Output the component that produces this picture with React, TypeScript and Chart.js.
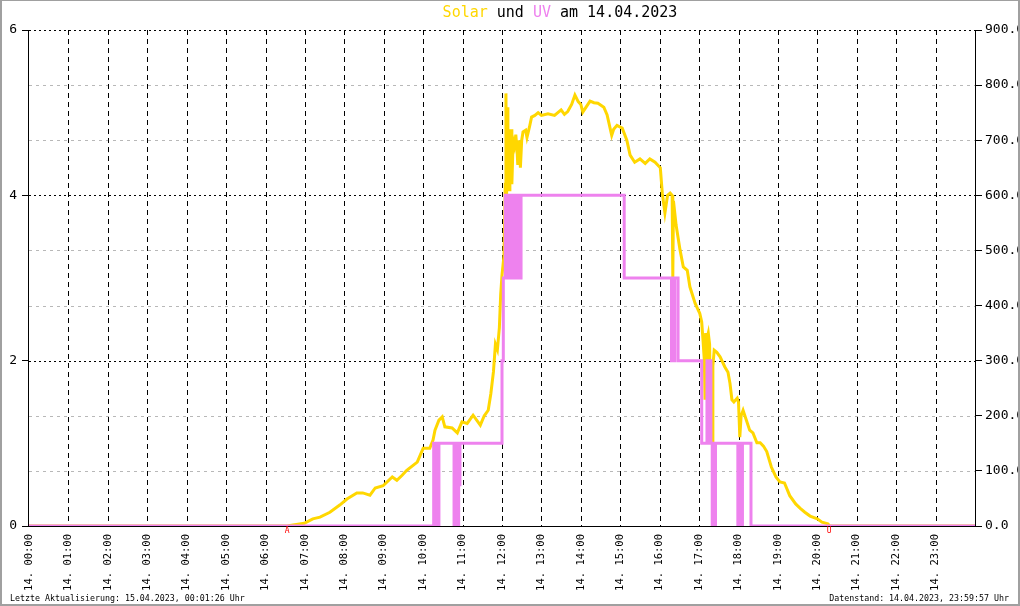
import React, { useEffect, useRef } from 'react';
import { Chart, registerables } from 'chart.js';

Chart.register(...registerables);

// ---------- data ----------
const DAY_LABEL = '14.';
const HOURS = [0, 1, 2, 3, 4, 5, 6, 7, 8, 9, 10, 11, 12, 13, 14, 15, 16, 17, 18, 19, 20, 21, 22, 23];
const UV_TICKS = [0, 2, 4, 6];
const SOLAR_TICKS = [0, 100, 200, 300, 400, 500, 600, 700, 800, 900];

const TITLE_TEXTS = ['Solar', ' und ', 'UV', ' am 14.04.2023'];
const FOOTER_LEFT = 'Letzte Aktualisierung: 15.04.2023, 00:01:26 Uhr';
const FOOTER_RIGHT = 'Datenstand: 14.04.2023, 23:59:57 Uhr';

const SUN_EVENT_MIN = [393, 1218];
const SUN_EVENT_LABEL = ['A', 'U'];

// solar radiation (W/m²), time in minutes after midnight
const SOLAR_MIN = [
  0, 393, 402, 419, 432, 443, 458, 473, 484, 499, 508, 519, 527, 539, 553, 560, 568, 575, 591, 600,
  610, 615, 618, 624, 629, 633, 644, 652, 659, 667, 676, 687, 693, 699, 703, 707, 710, 713, 716, 718,
  720, 723, 725, 726, 727, 728, 729, 730, 731, 732, 733, 734, 735, 737, 739, 741, 743, 744, 746, 748,
  750, 752, 756, 758, 762, 765, 770, 775, 780, 790, 800, 810, 815, 820, 826, 831, 836, 840, 843, 848,
  854, 860, 866, 875, 880, 887, 890, 895, 903, 910, 915, 922, 930, 938, 945, 953, 961, 964, 968, 972,
  976, 979, 980, 981, 985, 991, 996, 1002, 1006, 1014, 1021, 1024, 1026, 1028, 1029, 1030, 1031, 1032, 1034, 1036,
  1038, 1039, 1040, 1041, 1043, 1047, 1052, 1059, 1064, 1067, 1070, 1073, 1078, 1080, 1082, 1084, 1087, 1092, 1097, 1102,
  1108, 1113, 1118, 1123, 1130, 1137, 1143, 1150, 1158, 1167, 1174, 1181, 1189, 1200, 1207, 1216, 1219, 1440,
];
const SOLAR_W = [
  0, 0, 2, 5, 13, 16, 25, 38, 49, 60, 60, 56, 69, 73, 89, 83, 92, 101, 116, 141,
  141, 156, 174, 192, 198, 180, 178, 169, 189, 186, 201, 183, 200, 210, 240, 280, 330, 320, 360, 420,
  455, 490, 620, 785, 600, 760, 640, 720, 610, 700, 640, 720, 620, 700, 690, 710, 680, 655, 700, 650,
  700, 715, 718, 705, 725, 742, 745, 750, 745, 748, 745, 755, 747, 752, 765, 782, 770, 765, 751, 760,
  771, 768, 767, 760, 746, 709, 720, 727, 722, 700, 673, 660, 666, 658, 666, 660, 650, 604, 568, 600,
  604, 600, 452, 590, 546, 501, 470, 464, 434, 404, 386, 370, 337, 300, 229, 350, 260, 340, 350, 330,
  160, 300, 152, 290, 319, 315, 307, 289, 279, 259, 229, 225, 232, 225, 161, 200, 210, 192, 174, 169,
  151, 151, 145, 135, 107, 89, 80, 78, 55, 40, 32, 25, 18, 13, 7, 4, 0, 0,
];

// UV index (stepped), time in minutes after midnight
const UV_MIN = [
  0, 616, 618, 621, 622, 624, 647, 648, 649, 650, 651, 652, 653, 654, 655, 656,
  720, 722, 725, 726, 727, 728, 729, 730, 733, 734, 735, 736, 737, 738, 739, 740, 741, 742, 743, 744, 745, 746, 747, 748, 749,
  906, 978, 979, 980, 981, 982, 983, 988,
  1024, 1032, 1033, 1034, 1035, 1036, 1038, 1040, 1041, 1042, 1043, 1044, 1045,
  1079, 1080, 1081, 1082, 1083, 1084, 1085, 1086, 1099, 1440,
];
const UV_VAL = [
  0, 1, 0, 1, 0, 1, 0, 1, 0, 1, 0, 1, 0, 1, 0.5, 1,
  2, 3, 4, 3, 4, 3, 4, 3, 4, 3, 4, 3, 4, 3, 4, 3, 4, 3, 4, 3.5, 4, 3, 4, 3, 4,
  3, 2, 3, 2, 3, 2, 3, 2,
  1, 2, 1, 2, 1, 2, 1, 0, 1, 0, 1, 0, 1,
  0, 1, 0, 1, 0, 1, 0, 1, 0, 0,
];

// ---------- styles ----------
const W = 1020;
const H = 606;
const MONO = '"DejaVu Sans Mono", monospace';
const SOLAR_COLOR = '#FFD700';
const UV_COLOR = '#EE82EE';
const TITLE_COLORS = [SOLAR_COLOR, '#000000', UV_COLOR, '#000000'];

const pad2 = (n: number) => (n < 10 ? '0' + n : '' + n);

const decorPlugin = {
  id: 'decor',
  beforeDatasetsDraw(chart: any) {
    const { ctx, chartArea, scales } = chart;
    const { left, right, top, bottom } = chartArea;
    ctx.save();
    ctx.lineWidth = 1;
    // horizontal grid lines (solar axis ticks)
    SOLAR_TICKS.forEach((v) => {
      if (v === 0) return;
      const y = Math.round(scales.ySolar.getPixelForValue(v)) + 0.5;
      const major = v % 300 === 0;
      ctx.strokeStyle = major ? '#000000' : '#b8b8b8';
      ctx.setLineDash(major ? [2, 3] : [3, 4]);
      ctx.beginPath();
      ctx.moveTo(left, y);
      ctx.lineTo(right, y);
      ctx.stroke();
    });
    // vertical grid lines (hours)
    ctx.strokeStyle = '#000000';
    ctx.setLineDash([5, 4]);
    HOURS.forEach((h) => {
      if (h === 0) return;
      const x = Math.round(scales.x.getPixelForValue(h * 60)) + 0.5;
      ctx.beginPath();
      ctx.moveTo(x, top);
      ctx.lineTo(x, bottom);
      ctx.stroke();
    });
    // axis lines
    ctx.setLineDash([]);
    ctx.strokeStyle = '#000000';
    ctx.beginPath();
    ctx.moveTo(left - 0.5, top);
    ctx.lineTo(left - 0.5, bottom + 0.5);
    ctx.lineTo(right + 0.5, bottom + 0.5);
    ctx.lineTo(right + 0.5, top);
    ctx.stroke();
    ctx.restore();
  },
  afterDraw(chart: any) {
    const { ctx, scales } = chart;
    ctx.save();
    // title
    ctx.font = '15px ' + MONO;
    ctx.textBaseline = 'middle';
    ctx.textAlign = 'left';
    const widths = TITLE_TEXTS.map((t) => ctx.measureText(t).width);
    const total = widths.reduce((a, b) => a + b, 0);
    let x = 560 - total / 2;
    TITLE_TEXTS.forEach((t, i) => {
      ctx.fillStyle = TITLE_COLORS[i];
      ctx.fillText(t, x, 13);
      x += widths[i];
    });
    // sunrise / sunset markers
    ctx.font = '8px ' + MONO;
    ctx.fillStyle = '#ff0000';
    ctx.textAlign = 'center';
    SUN_EVENT_MIN.forEach((m, i) => {
      ctx.fillText(SUN_EVENT_LABEL[i], scales.x.getPixelForValue(m), 531);
    });
    // footer
    ctx.font = '8.3px ' + MONO;
    ctx.fillStyle = '#000000';
    ctx.textAlign = 'left';
    ctx.fillText(FOOTER_LEFT, 10, 599);
    ctx.textAlign = 'right';
    ctx.fillText(FOOTER_RIGHT, 1009, 599);
    // border
    ctx.fillStyle = '#a0a0a0';
    ctx.fillRect(0, 0, W, 1);
    ctx.fillRect(0, 0, 2, H);
    ctx.fillRect(W - 2, 0, 2, H);
    ctx.fillRect(0, H - 2, W, 2);
    ctx.restore();
  },
};

export default function App() {
  const ref = useRef<HTMLCanvasElement>(null);

  useEffect(() => {
    const canvas = ref.current;
    if (!canvas) return;
    const chart = new Chart(canvas, {
      type: 'line',
      data: {
        datasets: [
          {
            label: 'UV',
            data: UV_MIN.map((m, i) => ({ x: m, y: UV_VAL[i] })),
            yAxisID: 'yUV',
            borderColor: UV_COLOR,
            backgroundColor: UV_COLOR,
            borderWidth: 3,
            stepped: true,
            pointRadius: 0,
            fill: false,
            order: 0,
          },
          {
            label: 'Solar',
            data: SOLAR_MIN.map((m, i) => ({ x: m, y: SOLAR_W[i] })),
            yAxisID: 'ySolar',
            borderColor: SOLAR_COLOR,
            backgroundColor: SOLAR_COLOR,
            borderWidth: 3,
            pointRadius: 0,
            fill: false,
            tension: 0,
            order: 1,
          },
        ],
      } as any,
      options: {
        animation: false,
        responsive: false,
        maintainAspectRatio: false,
        devicePixelRatio: 1,
        layout: { padding: { top: 30, left: 0, right: 0, bottom: 0 } },
        plugins: {
          legend: { display: false },
          tooltip: { enabled: false },
          title: { display: false },
        },
        scales: {
          x: {
            type: 'linear',
            min: 0,
            max: 1440,
            afterBuildTicks: (s: any) => {
              s.ticks = HOURS.map((h) => ({ value: h * 60 }));
            },
            afterFit: (s: any) => {
              s.height = 80;
            },
            ticks: {
              autoSkip: false,
              maxRotation: 90,
              minRotation: 90,
              padding: 0,
              color: '#000000',
              font: { family: MONO, size: 10.5 },
              callback: (v: any) => `${DAY_LABEL} ${pad2(Math.round(v / 60))}:00`,
            },
            grid: { display: false },
            border: { display: false },
          },
          yUV: {
            type: 'linear',
            position: 'left',
            min: 0,
            max: 6,
            afterBuildTicks: (s: any) => {
              s.ticks = UV_TICKS.map((v) => ({ value: v }));
            },
            afterFit: (s: any) => {
              s.width = 29;
            },
            ticks: {
              padding: 5,
              color: '#000000',
              font: { family: MONO, size: 13 },
              callback: (v: any) => `${v}`,
            },
            grid: {
              display: true,
              drawOnChartArea: false,
              drawTicks: true,
              tickLength: 7,
              tickColor: '#000000',
              color: '#000000',
            },
            border: { display: false },
          },
          ySolar: {
            type: 'linear',
            position: 'right',
            min: 0,
            max: 900,
            afterBuildTicks: (s: any) => {
              s.ticks = SOLAR_TICKS.map((v) => ({ value: v }));
            },
            afterFit: (s: any) => {
              s.width = 45;
            },
            ticks: {
              padding: 3,
              color: '#000000',
              font: { family: MONO, size: 13 },
              callback: (v: any) => Number(v).toFixed(1),
            },
            grid: {
              display: true,
              drawOnChartArea: false,
              drawTicks: true,
              tickLength: 7,
              tickColor: '#000000',
              color: '#000000',
            },
            border: { display: false },
          },
        },
      } as any,
      plugins: [decorPlugin],
    });
    return () => chart.destroy();
  }, []);

  return (
    <div style={{ position: 'fixed', left: 0, top: 0, width: W, height: H, background: '#ffffff' }}>
      <canvas ref={ref} width={W} height={H} style={{ width: W, height: H, display: 'block' }} />
    </div>
  );
}
